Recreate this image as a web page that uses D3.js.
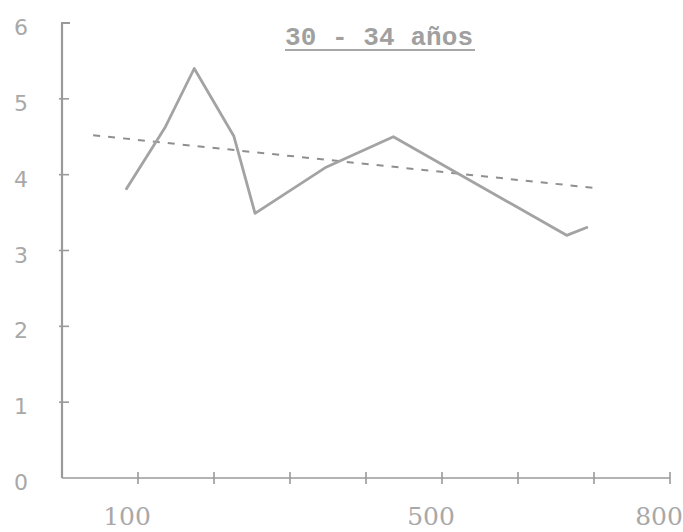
<!DOCTYPE html>
<html>
<head>
<meta charset="utf-8">
<script src="https://cdn.jsdelivr.net/npm/d3@7"></script>
<style>
  html, body { margin: 0; padding: 0; background: #fff; }
  svg { display: block; }
</style>
</head>
<body>
<svg id="chart" width="683" height="532"></svg>
<script>
// ---- data ----
const title = "30 - 34 años";
const xValues = [84, 136, 174, 226, 254, 346, 436, 664, 692];
const yValues = [3.80, 4.63, 5.40, 4.51, 3.49, 4.09, 4.50, 3.20, 3.31];
const trendX = [41, 705];
const trendY = [4.52, 3.82];
const xTicks = [100, 200, 300, 400, 500, 600, 700, 800];
const xTickLabels = [100, 500, 800];
const yTicks = [1, 2, 3, 4, 5, 6];
const yTickLabels = [0, 1, 2, 3, 4, 5, 6];

const svg = d3.select("#chart");
const x = d3.scaleLinear().domain([0, 800]).range([62, 670]);
const y = d3.scaleLinear().domain([0, 6]).range([478, 23]);

const axisColor = "#9a9a9a";
const labelColor = "#a8a8a8";

// axes lines
svg.append("line").attr("x1", x(0)).attr("x2", x(0)).attr("y1", y(0)).attr("y2", y(6))
  .attr("stroke", axisColor).attr("stroke-width", 2.2);
svg.append("line").attr("x1", x(0)).attr("x2", x(800)).attr("y1", y(0)).attr("y2", y(0))
  .attr("stroke", axisColor).attr("stroke-width", 1.6);
// cap at top of y axis
svg.append("line").attr("x1", x(0) - 1).attr("x2", x(0) + 8).attr("y1", y(6)).attr("y2", y(6))
  .attr("stroke", axisColor).attr("stroke-width", 2);

// y ticks
svg.append("g").selectAll("line").data(yTicks.filter(d => d < 6)).join("line")
  .attr("x1", x(0) - 3).attr("x2", x(0) + 7)
  .attr("y1", d => y(d)).attr("y2", d => y(d))
  .attr("stroke", axisColor).attr("stroke-width", 1.6);
// x ticks
svg.append("g").selectAll("line").data(xTicks).join("line")
  .attr("x1", d => x(d)).attr("x2", d => x(d))
  .attr("y1", y(0) - 6).attr("y2", y(0) + 6)
  .attr("stroke", axisColor).attr("stroke-width", 1.6);

// y labels
svg.append("g").selectAll("text").data(yTickLabels).join("text")
  .attr("x", 21).attr("y", d => y(d) + 6)
  .attr("text-anchor", "middle").attr("dominant-baseline", "middle")
  .attr("font-family", "DejaVu Sans, sans-serif").attr("font-size", 22)
  .attr("fill", labelColor)
  .text(d => d);

// x labels
svg.append("g").selectAll("text").data(xTickLabels).join("text")
  .attr("x", d => x(d) - 11).attr("y", 518)
  .attr("text-anchor", "middle").attr("dominant-baseline", "middle")
  .attr("font-family", "DejaVu Serif, serif").attr("font-size", 25)
  .attr("fill", labelColor)
  .text(d => d);

// trend line (dashed)
svg.append("line")
  .attr("x1", x(trendX[0])).attr("y1", y(trendY[0]))
  .attr("x2", x(trendX[1])).attr("y2", y(trendY[1]))
  .attr("stroke", "#8f8f8f").attr("stroke-width", 2)
  .attr("stroke-dasharray", "7,8");

// data line
const pts = xValues.map((v, i) => [v, yValues[i]]);
svg.append("path").datum(pts)
  .attr("d", d3.line().x(d => x(d[0])).y(d => y(d[1])))
  .attr("fill", "none").attr("stroke", "#a3a3a3").attr("stroke-width", 2.8)
  .attr("stroke-linejoin", "round");

// title
svg.append("text").attr("x", 285).attr("y", 45)
  .attr("font-family", "Liberation Mono, monospace").attr("font-size", 26)
  .attr("font-weight", "bold")
  .attr("fill", "#a0a0a0")
  .attr("textLength", 188).attr("lengthAdjust", "spacing")
  .text(title);
svg.append("line").attr("x1", 285).attr("x2", 475).attr("y1", 50).attr("y2", 50)
  .attr("stroke", "#a8a8a8").attr("stroke-width", 2.2);
</script>
</body>
</html>
